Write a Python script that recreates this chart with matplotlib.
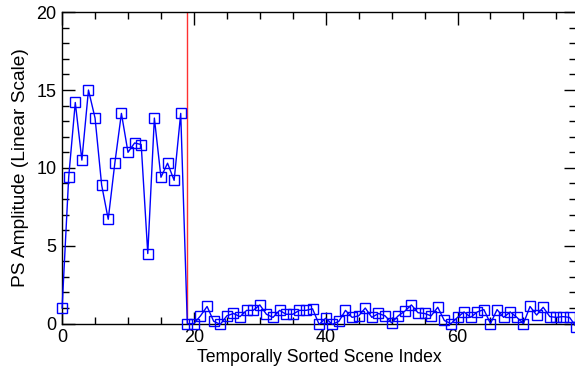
import matplotlib
matplotlib.use("Agg")
import matplotlib.pyplot as plt
from matplotlib.ticker import MultipleLocator

# scene index and PS amplitude
amplitude = [
    1.0, 9.4, 14.2, 10.5, 15.0, 13.2, 8.9, 6.7, 10.3, 13.5,
    11.0, 11.6, 11.5, 4.5, 13.2, 9.4, 10.3, 9.2, 13.5,
    0.0, 0.0, 0.5, 1.1, 0.15, -0.05, 0.5, 0.65, 0.45, 0.85, 0.85,
    1.2, 0.6, 0.4, 0.85, 0.6, 0.6, 0.85, 0.85, 0.95, -0.05,
    0.35, -0.05, 0.15, 0.85, 0.4, 0.5, 1.0, 0.4, 0.65, 0.5,
    0.05, 0.5, 0.8, 1.2, 0.7, 0.65, 0.5, 1.05, 0.2, 0.0,
    0.4, 0.75, 0.4, 0.75, 0.9, 0.0, 0.9, 0.4, 0.75, 0.4,
    0.0, 1.1, 0.55, 1.05, 0.45, 0.4, 0.45, 0.4, -0.2,
]
scene_index = list(range(len(amplitude)))
change_index = 19

plt.rcParams['font.family'] = ['Liberation Sans', 'DejaVu Sans']

fig = plt.figure(figsize=(5.75, 3.69), dpi=100)
ax = fig.add_axes([0.108, 0.123, 0.894, 0.844])

ax.axvline(change_index, color='#ff3030', linewidth=1.0)
ax.plot(scene_index, amplitude, color='blue', linewidth=1.0,
        marker='s', markersize=6.5, markerfacecolor='none',
        markeredgecolor='blue', markeredgewidth=1.0, clip_on=False, zorder=3)

ax.set_xlim(0, 78)
ax.set_ylim(0, 20)
ax.xaxis.set_major_locator(MultipleLocator(20))
ax.xaxis.set_minor_locator(MultipleLocator(5))
ax.yaxis.set_major_locator(MultipleLocator(5))
ax.yaxis.set_minor_locator(MultipleLocator(1))
ax.tick_params(which='both', direction='in', top=True, right=True,
               labelsize=13, width=1.0, colors='black')
ax.tick_params(which='major', length=9, pad=4)
ax.tick_params(which='minor', length=5)
for s in ax.spines.values():
    s.set_linewidth(1.0)

ax.set_xlabel('Temporally Sorted Scene Index', fontsize=12.7, labelpad=2)
ax.set_ylabel('PS Amplitude (Linear Scale)', fontsize=13.8, labelpad=5)

fig.savefig('out.png', dpi=100)
